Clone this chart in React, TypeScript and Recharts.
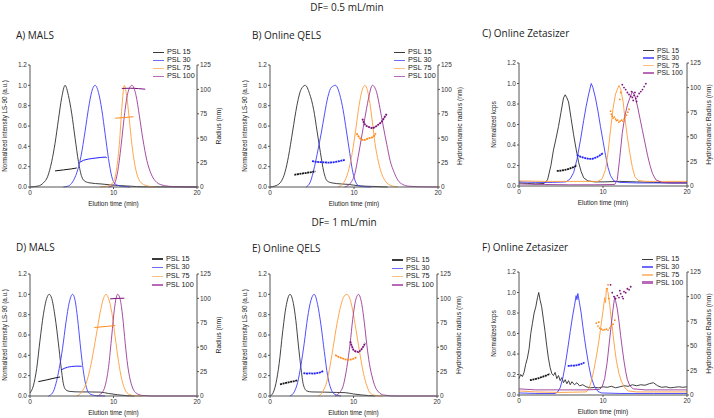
import { ComposedChart, Line, XAxis, YAxis, Label } from "recharts";

const names = ["PSL 15", "PSL 30", "PSL 75", "PSL 100"];
const xTicks = [0, 10, 20];
const leftTicks = [0, 0.2, 0.4, 0.6, 0.8, 1.0, 1.2];
const rightTicks = [0, 25, 50, 75, 100, 125];

// A) MALS, DF 0.5 — [time (min), value]
const a15I = [[0,0],[1,0.01],[1.6,0.04],[2.1,0.1],[2.6,0.25],[3.0,0.43],[3.4,0.66],[3.8,0.88],[4.2,1.0],[4.6,0.9],[5.0,0.72],[5.4,0.48],[5.8,0.25],[6.2,0.1],[6.6,0.055],[7.2,0.04],[8.5,0.03],[9.5,0.022],[10.5,0.015],[12,0.008],[13.5,0.002],[20,0]];
const a30I = [[4,0],[4.6,0.01],[5.1,0.05],[5.6,0.14],[6.1,0.3],[6.6,0.55],[7.0,0.77],[7.4,0.94],[7.8,1.0],[8.2,0.93],[8.6,0.76],[9.0,0.52],[9.4,0.28],[9.8,0.1],[10.2,0.03],[10.8,0.01],[11.5,0.003],[12,0]];
const a75I = [[8.4,0],[9.3,0.01],[9.9,0.04],[10.3,0.14],[10.7,0.42],[11.0,0.78],[11.3,1.0],[11.6,0.88],[11.9,0.66],[12.2,0.42],[12.6,0.2],[13.0,0.08],[13.6,0.025],[14.4,0.005],[15,0]];
const a100I = [[9.4,0],[10,0.02],[10.5,0.15],[10.9,0.4],[11.3,0.7],[11.7,0.92],[12.2,1.0],[12.7,0.9],[13.1,0.7],[13.5,0.48],[14,0.26],[14.5,0.13],[15,0.06],[15.8,0.02],[17,0.005],[20,0]];
const a15R = [[3.0,16.5],[4,17.5],[5,18.6],[5.6,19.5]];
const a30R = [[6.0,25.5],[6.4,27.3],[7.0,28.6],[7.8,29.6],[8.6,30.4],[9.1,30.6],[9.2,29.5]];
const a75R = [[10.2,70.5],[11,71],[11.8,71.5],[12.4,72]];
const a100R = [[11,101],[12,101.2],[13,100.8],[13.8,100.2]];

// B) Online QELS, DF 0.5
const b15I = [[0,0],[0.6,0.01],[1.2,0.04],[1.8,0.15],[2.2,0.3],[2.7,0.55],[3.2,0.8],[3.7,0.96],[4.2,1.0],[4.7,0.92],[5.2,0.76],[5.6,0.55],[6.0,0.34],[6.4,0.15],[6.8,0.06],[7.4,0.04],[8.5,0.03],[9.4,0.025],[10.5,0.012],[12.5,0.005],[14,0]];
const b30I = [[4.3,0],[4.8,0.05],[5.3,0.2],[5.7,0.36],[6.1,0.53],[6.5,0.72],[6.9,0.89],[7.3,0.98],[7.8,1.0],[8.3,0.91],[8.7,0.76],[9.1,0.55],[9.5,0.33],[9.8,0.17],[10.1,0.07],[10.5,0.015],[11.2,0.003],[12,0]];
const b75I = [[8.1,0],[8.9,0.06],[9.4,0.18],[9.8,0.34],[10.2,0.56],[10.6,0.8],[11.0,0.96],[11.3,1.0],[11.6,0.95],[11.9,0.82],[12.2,0.63],[12.5,0.43],[12.9,0.25],[13.3,0.13],[13.8,0.05],[14.4,0.015],[15.2,0]];
const b100I = [[8.9,0],[9.6,0.04],[10.1,0.13],[10.5,0.3],[10.9,0.49],[11.3,0.68],[11.7,0.86],[12.2,1.0],[12.7,0.93],[13.1,0.77],[13.5,0.59],[13.9,0.42],[14.3,0.26],[14.8,0.14],[15.2,0.07],[15.8,0.025],[16.5,0.008],[18,0.002],[20,0]];
const b15R = [[2.9,12.5],[3.5,13.4],[4.2,14.3],[4.9,15.2],[5.4,16]];
const b30R = [[5.0,26.5],[5.5,25.8],[6,25.5],[6.5,25.2],[7,25],[7.5,25.3],[8,26],[8.5,27],[8.9,27.8]];
const b75R = [[10.3,55],[10.6,51],[10.9,48.5],[11.2,48],[11.5,49],[11.8,50],[12.1,50.5],[12.4,52.5],[12.6,55]];
const b100R = [[11.0,70],[11.2,65],[11.5,62.5],[11.9,61],[12.2,60],[12.6,62],[13.0,64.5],[13.3,67],[13.6,71],[13.9,75]];

// C) Online Zetasizer, DF 0.5
const c15I = [[0,0.03],[1,0.025],[2,0.02],[3,0.025],[3.4,0.06],[3.8,0.2],[4.1,0.35],[4.4,0.46],[4.7,0.58],[5.0,0.72],[5.3,0.86],[5.5,0.89],[5.7,0.86],[5.9,0.82],[6.2,0.66],[6.5,0.5],[6.8,0.36],[7.1,0.23],[7.4,0.14],[7.7,0.08],[8.2,0.05],[9,0.04],[10,0.04],[12,0.045],[14,0.04],[16,0.035],[18,0.03],[20,0.03]];
const c30I = [[0,0.04],[2,0.035],[4,0.035],[5.6,0.04],[6.1,0.07],[6.5,0.13],[6.9,0.26],[7.3,0.44],[7.7,0.64],[8.0,0.78],[8.3,0.9],[8.6,1.0],[8.8,0.96],[9.1,0.86],[9.4,0.73],[9.7,0.58],[10.0,0.44],[10.3,0.3],[10.6,0.18],[10.9,0.1],[11.3,0.05],[12,0.035],[14,0.03],[17,0.03],[20,0.03]];
const c75I = [[0,0.05],[3,0.045],[6,0.045],[9.4,0.045],[9.9,0.07],[10.3,0.16],[10.6,0.33],[10.9,0.55],[11.2,0.76],[11.5,0.9],[11.9,0.98],[12.1,0.95],[12.4,0.82],[12.6,0.67],[12.9,0.48],[13.2,0.32],[13.5,0.18],[13.8,0.09],[14.2,0.055],[15,0.045],[17,0.045],[20,0.045]];
const c100I = [[0,0.02],[3,0.015],[6,0.012],[9,0.012],[11.4,0.015],[11.7,0.06],[12.0,0.28],[12.3,0.52],[12.6,0.68],[12.9,0.79],[13.2,0.86],[13.5,0.92],[13.8,0.88],[14.1,0.78],[14.4,0.66],[14.7,0.54],[15.0,0.42],[15.3,0.3],[15.6,0.2],[15.9,0.12],[16.3,0.06],[17,0.035],[18.5,0.03],[20,0.03]];
const c15R = [[4.5,15.3],[5,15.6],[5.5,16.4],[6,17.6],[6.5,19.2],[6.9,21]];
const c30R = [[6.9,31.5],[7.3,29.8],[7.8,28.5],[8.3,27.5],[8.7,27.5],[9.2,29],[9.6,31],[10,33.5]];
const c75R = [[10.9,76],[11.0,73],[11.1,71],[11.2,69],[11.35,70],[11.5,68],[11.6,66.5],[11.75,67],[11.9,65],[12.05,66],[12.2,67],[12.35,66],[12.5,68],[12.65,70],[12.8,72],[12.95,75],[13.1,78],[12.0,88],[12.1,95]];
const c100R = [[12.3,103],[12.5,100],[12.7,98],[12.9,95],[13.1,93],[13.3,91],[13.5,90],[13.7,92],[13.9,89],[14.1,91],[14.3,94],[14.5,96],[14.7,98],[14.9,101],[15.1,104],[13.4,96],[13.6,87],[13.8,95],[14.0,86]];

// D) MALS, DF 1
const d15I = [[0,0.03],[0.4,0.1],[0.8,0.27],[1.2,0.55],[1.6,0.8],[2.0,0.96],[2.3,1.0],[2.6,0.96],[3.0,0.78],[3.4,0.52],[3.7,0.3],[4.0,0.12],[4.3,0.06],[4.8,0.045],[6,0.04],[7,0.04],[8.4,0.038],[9.4,0.025],[10.5,0.012],[11.6,0.003],[12.5,0]];
const d30I = [[2.2,0],[2.7,0.03],[3.1,0.12],[3.5,0.27],[3.9,0.47],[4.3,0.72],[4.7,0.92],[5.1,1.0],[5.4,0.94],[5.7,0.76],[6.0,0.52],[6.3,0.3],[6.6,0.14],[6.9,0.05],[7.3,0.015],[8,0.003],[9,0]];
const d75I = [[5.6,0],[6.2,0.04],[6.7,0.12],[7.2,0.27],[7.6,0.44],[8.0,0.63],[8.4,0.82],[8.8,0.96],[9.1,1.0],[9.4,0.96],[9.8,0.82],[10.2,0.58],[10.6,0.34],[11.0,0.16],[11.4,0.06],[11.9,0.015],[12.5,0.003],[13.5,0]];
const d100I = [[8.0,0],[8.6,0.03],[9.0,0.1],[9.4,0.28],[9.8,0.6],[10.1,0.85],[10.5,1.0],[10.8,0.95],[11.1,0.78],[11.4,0.52],[11.7,0.3],[12.0,0.16],[12.4,0.06],[12.9,0.02],[13.5,0.005],[15,0],[20,0]];
const d15R = [[1.0,14.7],[2,16.5],[3,18.5],[3.6,19.5]];
const d30R = [[3.7,26.5],[4.1,28.3],[4.5,29.5],[5,30.2],[5.6,30.6],[6.2,30.5]];
const d75R = [[7.7,70.2],[8.5,70.8],[9.3,71.4],[10.2,72.2]];
const d100R = [[9.6,99.5],[10.4,100],[11.3,100.2]];

// E) Online QELS, DF 1
const e15I = [[0,0],[0.3,0.02],[0.7,0.12],[1.1,0.32],[1.5,0.62],[1.9,0.87],[2.4,1.0],[2.8,0.91],[3.1,0.74],[3.4,0.5],[3.7,0.28],[4.0,0.11],[4.4,0.05],[5,0.04],[6.5,0.038],[8,0.035],[9,0.033],[10,0.02],[11,0.01],[12.6,0]];
const e30I = [[2.4,0],[2.9,0.04],[3.3,0.13],[3.7,0.3],[4.1,0.52],[4.5,0.77],[4.9,0.94],[5.3,1.0],[5.7,0.9],[6.1,0.7],[6.5,0.44],[6.9,0.2],[7.3,0.07],[7.8,0.015],[8.5,0]];
const e75I = [[5.8,0],[6.3,0.04],[6.8,0.14],[7.2,0.3],[7.6,0.5],[8.0,0.7],[8.4,0.86],[8.8,0.97],[9.2,1.0],[9.6,0.95],[10.0,0.8],[10.4,0.6],[10.8,0.4],[11.2,0.22],[11.6,0.1],[12.0,0.03],[12.6,0.005],[13.5,0]];
const e100I = [[7.8,0],[8.3,0.03],[8.8,0.11],[9.2,0.28],[9.6,0.52],[9.9,0.75],[10.2,0.92],[10.6,1.0],[11.0,0.9],[11.3,0.72],[11.6,0.5],[11.9,0.32],[12.2,0.2],[12.6,0.09],[13.0,0.04],[13.6,0.01],[15,0],[20,0]];
const e15R = [[1.2,12],[1.7,13],[2.2,14],[2.8,15],[3.3,16]];
const e30R = [[4.0,23.5],[4.4,23],[4.8,23.2],[5.2,23],[5.6,23.4],[6.0,24.2],[6.4,25.5]];
const e75R = [[7.8,42],[8.2,40],[8.6,38.8],[9.0,37.5],[9.4,37],[9.8,37.5],[10.1,38.5],[10.4,40]];
const e100R = [[9.6,56],[9.8,51],[10.0,47],[10.3,45.5],[10.6,45],[10.9,47],[11.2,51],[11.4,54.5]];

// F) Online Zetasizer, DF 1
const f15I = [[0,0.16],[0.2,0.2],[0.4,0.18],[0.6,0.22],[0.8,0.3],[1.0,0.36],[1.2,0.45],[1.4,0.6],[1.6,0.7],[1.8,0.8],[2.0,0.86],[2.2,0.95],[2.35,1.0],[2.5,0.93],[2.7,0.86],[2.9,0.74],[3.1,0.62],[3.3,0.48],[3.5,0.36],[3.7,0.27],[3.9,0.21],[4.1,0.19],[4.3,0.22],[4.5,0.16],[4.7,0.19],[4.9,0.14],[5.1,0.17],[5.3,0.12],[5.5,0.15],[5.7,0.11],[5.9,0.14],[6.1,0.1],[6.3,0.13],[6.6,0.1],[6.9,0.12],[7.2,0.09],[7.6,0.1],[8.0,0.08],[8.5,0.07],[9,0.075],[9.5,0.07],[10,0.08],[10.5,0.075],[11,0.085],[11.5,0.07],[12,0.08],[12.5,0.09],[13,0.085],[13.5,0.1],[14,0.09],[14.5,0.1],[15,0.095],[15.5,0.11],[16,0.12],[16.5,0.09],[17,0.075],[17.5,0.08],[18,0.07],[18.5,0.075],[19,0.08],[19.5,0.075],[20,0.08]];
const f30I = [[0,0.02],[2,0.015],[4.3,0.015],[4.6,0.03],[4.9,0.07],[5.2,0.16],[5.5,0.29],[5.8,0.45],[6.1,0.62],[6.4,0.78],[6.6,0.87],[6.8,0.97],[6.9,0.93],[7.0,0.99],[7.2,0.9],[7.4,0.8],[7.6,0.67],[7.8,0.55],[8.0,0.44],[8.3,0.29],[8.6,0.17],[9.0,0.08],[9.4,0.035],[9.8,0.02],[12,0.015],[16,0.015],[20,0.015]];
const f75I = [[0,0.04],[2,0.03],[5,0.025],[8,0.03],[8.3,0.06],[8.6,0.13],[8.9,0.24],[9.2,0.37],[9.5,0.52],[9.8,0.7],[10.0,0.82],[10.2,0.95],[10.3,0.9],[10.4,1.04],[10.6,1.0],[10.8,0.88],[11.0,0.73],[11.2,0.59],[11.4,0.45],[11.6,0.33],[11.9,0.21],[12.2,0.13],[12.6,0.07],[13.0,0.04],[14,0.03],[17,0.03],[20,0.03]];
const f100I = [[0,0.06],[2,0.05],[5,0.05],[8,0.05],[9.6,0.055],[9.9,0.08],[10.2,0.16],[10.5,0.32],[10.8,0.55],[11.0,0.7],[11.2,0.84],[11.4,0.96],[11.5,0.92],[11.7,0.84],[11.9,0.72],[12.1,0.58],[12.3,0.45],[12.5,0.33],[12.7,0.23],[12.9,0.15],[13.2,0.09],[13.6,0.06],[15,0.05],[18,0.05],[20,0.05]];
const f15R = [[1.3,15],[1.8,16],[2.3,17],[2.8,18.5],[3.3,20],[3.7,21.5]];
const f30R = [[5.8,29.5],[6.2,29.8],[6.6,30],[7.0,30.5],[7.4,31.5],[7.8,33]];
const f75R = [[9.2,73],[9.4,70],[9.5,74],[9.6,68],[9.8,67],[10.0,66],[10.2,66.5],[10.4,67],[10.5,108],[10.6,112],[10.6,66],[10.7,98],[10.8,68],[11.0,70],[11.2,72],[11.4,76]];
const f100R = [[10.9,112],[11.1,104],[11.3,100],[11.5,98],[11.7,101],[11.9,99],[12.0,106],[12.1,103],[12.3,100],[12.4,98],[12.5,105],[12.7,104],[12.9,108],[13.1,107],[13.3,110]];

const lineColors = ["#2e2e2e", "#3b3bff", "#ff9c3a", "#993a99"];
const radColors = ["#161616", "#2020ff", "#ff8a1c", "#7a117a"];
const legendColors = ["#3a3a3a", "#6a6aff", "#ffbf80", "#b86ab8"];
const axisColor = "#555";
const F = "'Liberation Sans', Arial, sans-serif";
const TF = "'Open Sans', sans-serif";

const lblLS = "Normalized intensity LS-90 (a.u.)";
const lblKcps = "Normalized kcps";

const panels = [
  { title: "A) MALS", box: [30, 197, 65, 187], tAt: [16, 35], lg: [153, 52.3, 8], noisy: false, kinds: ["line", "line", "line", "line"], inten: [a15I, a30I, a75I, a100I], rad: [a15R, a30R, a75R, a100R], yL: lblLS, yR: "Radius (nm)" },
  { title: "B) Online QELS", box: [270, 438, 65, 187], tAt: [252, 35], lg: [394, 52.3, 8], noisy: false, kinds: ["thick", "thick", "thick", "thick"], inten: [b15I, b30I, b75I, b100I], rad: [b15R, b30R, b75R, b100R], yL: lblLS, yR: "Hydrodinamic radius (nm)" },
  { title: "C) Online Zetasizer", box: [519, 687, 63, 186], tAt: [482, 33.3], lg: [643, 50.7, 7.4], noisy: true, kinds: ["thick", "thick", "dots", "dots"], inten: [c15I, c30I, c75I, c100I], rad: [c15R, c30R, c75R, c100R], yL: lblKcps, yR: "Hydrodinamic Radius (nm)" },
  { title: "D) MALS", box: [30, 197, 274, 396], tAt: [16, 246.7], lg: [152, 259, 8.7], noisy: false, kinds: ["line", "line", "line", "line"], inten: [d15I, d30I, d75I, d100I], rad: [d15R, d30R, d75R, d100R], yL: lblLS, yR: "Radius (nm)" },
  { title: "E) Online QELS", box: [270, 437, 274, 396], tAt: [252, 247.7], lg: [392, 260, 8.3], noisy: false, kinds: ["thick", "thick", "thick", "thick"], inten: [e15I, e30I, e75I, e100I], rad: [e15R, e30R, e75R, e100R], yL: lblLS, yR: "Hydrodinamic radius (nm)" },
  { title: "F) Online Zetasizer", box: [519, 687, 272, 395], tAt: [482, 247.3], lg: [642, 259.3, 7.8], noisy: true, kinds: ["thick", "thick", "dots", "dots"], inten: [f15I, f30I, f75I, f100I], rad: [f15R, f30R, f75R, f100R], yL: lblKcps, yR: "Hydrodinamic Radius (nm)" },
];

const rows = (pts: number[][]) => pts.map(([x, y]) => ({ x, y }));

function Panel({ p }: { p: any }) {
  const [pl, pr, pt, pb] = p.box;
  const wL = 32, wR = 30, mt = 8, hX = 22;
  const pw = pr - pl, ph = pb - pt;
  const W = pw + wL + wR, H = ph + mt + hX;
  const tick = { fontSize: 6.5, fill: "#333", fontFamily: F };
  const [lx, ly, sp] = p.lg;
  const lgFont = Math.min(7.3, sp - 0.6);
  return (
    <>
      <div style={{ position: "absolute", left: pl - wL, top: pt - mt }}>
        <ComposedChart width={W} height={H} margin={{ top: mt, right: 0, bottom: 0, left: 0 }}>
          <XAxis type="number" dataKey="x" domain={[0, 20]} ticks={xTicks} height={hX} tickSize={2} tickMargin={1}
            axisLine={{ stroke: axisColor }} tickLine={{ stroke: axisColor }} tick={tick}>
            <Label content={() => (
              <text x={wL + pw / 2} y={mt + ph + 19} textAnchor="middle" fontSize={6.5} fill="#222" fontFamily={F}>Elution time (min)</text>
            )} />
          </XAxis>
          <YAxis yAxisId="l" type="number" domain={[0, 1.2]} ticks={leftTicks} width={wL} tickSize={2} tickMargin={1}
            axisLine={{ stroke: axisColor }} tickLine={{ stroke: axisColor }} tick={tick} tickFormatter={(v: number) => v.toFixed(1)}>
            <Label content={() => (
              <text transform={`translate(${wL - 23},${mt + ph / 2}) rotate(-90)`} textAnchor="middle" fontSize={6.3} fill="#222" fontFamily={F}>{p.yL}</text>
            )} />
          </YAxis>
          <YAxis yAxisId="r" orientation="right" type="number" domain={[0, 125]} ticks={rightTicks} width={wR} tickSize={2} tickMargin={1}
            axisLine={{ stroke: axisColor }} tickLine={{ stroke: axisColor }} tick={tick}>
            <Label content={() => (
              <text transform={`translate(${wL + pw + 23.5},${mt + ph / 2}) rotate(-90)`} textAnchor="middle" fontSize={6.8} fill="#222" fontFamily={F}>{p.yR}</text>
            )} />
          </YAxis>
          {p.inten.map((d: number[][], i: number) => (
            <Line key={"i" + i} yAxisId="l" data={rows(d)} dataKey="y" type={p.noisy ? "linear" : "monotone"}
              stroke={lineColors[i]} strokeWidth={0.9} dot={false} activeDot={false} isAnimationActive={false} />
          ))}
          {p.rad.map((d: number[][], i: number) => {
            const kind = p.kinds[i];
            if (kind === "dots") {
              return (
                <Line key={"r" + i} yAxisId="r" data={rows(d)} dataKey="y" type="linear" stroke="none"
                  dot={{ r: 0.9, fill: radColors[i], stroke: "none" }} activeDot={false} isAnimationActive={false} />
              );
            }
            return (
              <Line key={"r" + i} yAxisId="r" data={rows(d)} dataKey="y" type={kind === "line" ? "monotone" : "linear"}
                stroke={radColors[i]} strokeWidth={kind === "line" ? 1 : 1.8} strokeDasharray={kind === "line" ? undefined : "2 0.6"}
                dot={false} activeDot={false} isAnimationActive={false} />
            );
          })}
        </ComposedChart>
      </div>
      <div style={{ position: "absolute", left: p.tAt[0], top: p.tAt[1] - 8, fontFamily: TF, fontSize: 10, lineHeight: "16px", color: "#222", whiteSpace: "nowrap" }}>
        {p.title}
      </div>
      <div style={{ position: "absolute", left: lx, top: ly - sp / 2, fontFamily: F, fontSize: lgFont, lineHeight: sp + "px", color: "#222" }}>
        {names.map((n, i) => (
          <div key={n} style={{ display: "flex", alignItems: "center", height: sp, whiteSpace: "nowrap" }}>
            <span style={{ display: "inline-block", width: 11, height: i === 3 && p.noisy ? 2.5 : 1.5, background: legendColors[i], marginRight: 3 }} />
            {n}
          </div>
        ))}
      </div>
    </>
  );
}

export default function App() {
  return (
    <div style={{ position: "absolute", left: 0, top: 0, width: 714, height: 418, background: "#fff", overflow: "hidden" }}>
      <div style={{ position: "absolute", left: 297, top: -1, width: 100, textAlign: "center", fontFamily: TF, fontSize: 10, lineHeight: "16px", color: "#222" }}>DF= 0.5 mL/min</div>
      <div style={{ position: "absolute", left: 294, top: 214, width: 100, textAlign: "center", fontFamily: TF, fontSize: 10, lineHeight: "16px", color: "#222" }}>DF= 1 mL/min</div>
      {panels.map((p) => (
        <Panel key={p.title} p={p} />
      ))}
    </div>
  );
}
